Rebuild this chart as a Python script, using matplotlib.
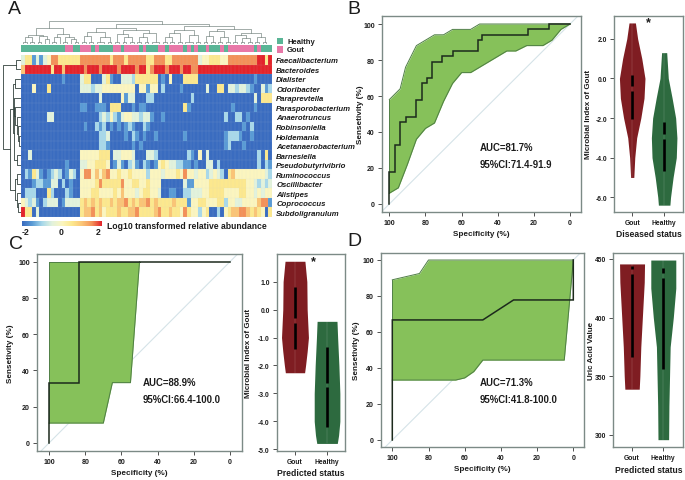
"""Panel figure: gout microbiome heatmap plus ROC curves and violin plots."""
import matplotlib

matplotlib.use("Agg")
import matplotlib.pyplot as plt
import numpy as np
from matplotlib.colors import LinearSegmentedColormap, ListedColormap

plt.rcParams["font.family"] = ["Liberation Sans", "DejaVu Sans"]

W, H = 685, 481

# --- heatmap data: level 0..8 per sample, -2..2 on the colour scale
GENERA = ["Faecalibacterium", "Bacteroides", "Dialister", "Odoribacter", "Paraprevtella",
          "Parasporobacterium", "Anaerotruncus", "Robinsoniella", "Holdemania",
          "Acetanaerobacterium", "Barnesiella", "Pseudobutyrivibrio", "Ruminococcus",
          "Oscillibacter", "Alistipes", "Coprococcus", "Subdoligranulum"]
LEVELS = [
    "3551313477555555" "77777777" "5" "777" "5" "77777" "55" "777" "55" "7777777" "344" "555" "44" "77777777" "88" "5" "8",
    "6888888858868888" "878887888878888788" "5" "78887888788" "77" "88888888888888888888",
    "0000000000010000" "3550003510033325555550104000555500000000000000010000",
    "0004000500000000" "333233" "444444444" "0" "44" "1" "44" "0" "2" "0000" "1" "000000" "3" "00" "55" "0" "3323321" "00" "3" "1" "2",
    "0000000000000000" "00000" "3" "00000" "4133" "000" "22" "0000000000" "2" "0000000000000000" "3" "0" "555",
    "0000000000000000" "11" "00" "1" "110" "555" "000" "1" "0" "11" "0000000000" "51" "00000000000" "1" "00000" "1" "0000",
    "0000000330000000" "00000" "232" "4" "2" "1" "344" "3323" "31" "00" "1" "0000000000000000" "2" "00" "22" "0" "1" "000000",
    "0000000000000000" "0100" "212" "01010" "121" "00" "21" "0000000000000000000000000" "1" "0" "2" "00000",
    "0000000000000000" "00000" "223" "0000" "1" "0" "21" "0" "1" "00" "1" "0000000" "1" "0000000000" "12221" "00" "1" "00000",
    "0000000000000000" "00000" "221" "000000" "1" "0" "1" "0000000000000000000000" "12" "000" "1" "0000000",
    "0030000000000000" "44444" "555" "0" "33" "444" "3" "000" "33" "2" "00000000" "2" "1" "0" "4" "0" "3" "0000000000000" "2" "0" "5" "0",
    "0000000000001000" "33" "445554" "0" "1" "3" "1" "0" "2" "3" "1" "0" "2101" "45433221" "1" "0" "1" "00" "33" "0" "2" "0000000000" "2" "0" "2" "1",
    "0215310123201320" "47746467" "4454454444" "2" "444344454" "7" "44344" "23" "432" "0" "56" "4444444432",
    "0001221133020100" "44445" "7" "55555" "7" "445544544" "4" "000000" "3" "11" "4444555555555544" "3" "2" "3" "2" "3",
    "0222000520002100" "44455444454" "6" "44434554" "43" "00" "1100" "2" "23" "3344" "5555" "444455" "44" "34344",
    "4323102333013333" "565656556566" "7" "56566" "7" "5655556555" "1" "445544455" "2" "443344" "44" "677" "1",
    "8550300000000000" "566756455" "565566755" "5567556554" "7" "544" "2" "45" "00" "2" "0" "45667765654" "0" "5",
]
GROUPS = "0000000000001100" "111" "0" "1" "0000" "11" "0" "1111" "0" "1" "000" "11" "0" "1111" "0" "1" "0" "1" "00" "1" "000" "1" "0" "1111111" "0" "1" "000"
GROUP_NAMES = ["Healthy", "Gout"]
COLORBAR_TICKS = [-2, 0, 2]

# nested merges: [height, left, right]; an int is a run of that many leaves
SAMPLE_TREE = [1.0,
               [0.7, [0.42, [0.3, 2, 2], [0.34, 2, [0.2, 1, 1]]], [0.46, [0.3, 2, 1], [0.3, 2, [0.22, 1, 2]]]],
               [0.88,
                [0.7, [0.55, [0.36, 2, 2], [0.3, 3, 2]], [0.62, [0.45, 2, [0.3, 2, 2]], [0.5, [0.3, 2, 2], 3]]],
                [0.8, [0.62, [0.5, [0.3, 2, 2], 2], [0.42, 3, 2]],
                 [0.66, [0.56, [0.34, 2, 2], [0.3, 2, 2]], [0.5, [0.4, 2, [0.28, 2, 2]], [0.3, 2, 2]]]]]]
GENUS_TREE = [1.0, [0.28, 1, 1],
              [0.6,
               [0.42, [0.34, 1, 1],
                [0.4, [0.36, 1, [0.3, 1, [0.2, 1, [0.14, 1, [0.1, 1, 1]]]]], [0.2, 1, 1]]],
               [0.3, [0.2, 1, 1], [0.22, 1, [0.14, 1, 1]]]]]

# --- ROC curves: (specificity, sensitivity)
B_SPEC = [100, 100, 97, 97, 94, 94, 91, 91, 85, 85, 82, 82, 79, 79, 76.5, 76.5, 71, 71, 65, 65, 51, 51, 48.5, 48.5, 23, 23, 11.5, 11.5, 0]
B_SENS = [0, 18, 18, 33, 33, 45.5, 45.5, 48.5, 48.5, 58, 58, 67, 67, 70, 70, 79, 79, 82, 82, 85, 85, 91, 91, 94, 94, 97, 97, 100, 100]
B_UP_SPEC = [100, 94, 91, 85, 75, 70, 65, 55, 50, 0]
B_UP_SENS = [58, 64, 76, 88, 94, 94, 97, 97, 100, 100]
B_LO_SPEC = [100, 95, 90, 85, 80, 75, 70, 65, 60, 55, 50, 40, 35, 30, 24, 15, 10, 5, 0]
B_LO_SENS = [6, 9, 22, 36, 42, 45, 57, 67, 73, 73, 76, 82, 85, 85, 88, 88, 91, 97, 100]

C_SPEC = [100, 100, 83.3, 83.3, 0]
C_SENS = [0, 33.3, 33.3, 100, 100]
C_UP_SPEC = [100, 50]
C_UP_SENS = [100, 100]
C_LO_SPEC = [100, 70, 65, 55, 50]
C_LO_SENS = [11, 11, 33.3, 33.3, 100]

D_SPEC = [100, 100, 50, 33, 0, 0]
D_SENS = [0, 66.7, 66.7, 77.8, 77.8, 100]
D_UP_SPEC = [100, 85, 80, 0]
D_UP_SENS = [89, 92.5, 100, 100]
D_LO_SPEC = [100, 65, 60, 55, 50, 5, 0]
D_LO_SENS = [33.3, 33.3, 34.5, 38, 44.4, 44.4, 100]

# --- violins: (value, half width), then the black bar and its gap
VB_GOUT_Y = [2.8, 2, 1, 0, -1, -2, -3, -4, -5]
VB_GOUT_W = [0.1, 0.17, 0.3, 0.4, 0.37, 0.27, 0.14, 0.08, 0.05]
VB_HEAL_Y = [1.3, 0, -1, -2, -3, -4, -5, -6, -6.4]
VB_HEAL_W = [0.08, 0.13, 0.25, 0.36, 0.4, 0.38, 0.28, 0.2, 0.18]
VB_BARS = [(0.15, -2.05, -0.5), (-2.2, -4.7, -2.95)]
VB_TICKS = [2, 0, -2, -4, -6]

VC_GOUT_Y = [1.73, 1, 0, -1, -1.5, -2, -2.26]
VC_GOUT_W = [0.31, 0.37, 0.38, 0.42, 0.38, 0.33, 0.3]
VC_HEAL_Y = [-0.42, -1, -2, -3, -4, -4.5, -4.79]
VC_HEAL_W = [0.31, 0.33, 0.37, 0.4, 0.4, 0.36, 0.32]
VC_BARS = [(0.8, -1.41, -0.4), (-1.35, -4.2, -2.7)]
VC_TICKS = [1, 0, -1, -2, -3, -4, -5]

VD_GOUT_Y = [445.7, 430, 400, 375, 350, 339]
VD_GOUT_W = [0.4, 0.39, 0.33, 0.28, 0.25, 0.23]
VD_HEAL_Y = [449, 425, 400, 375, 350, 325, 296]
VD_HEAL_W = [0.4, 0.4, 0.32, 0.22, 0.2, 0.18, 0.17]
VD_BARS = [(444, 366, 439), (442.6, 356, 436)]
VD_TICKS = [450, 400, 350, 300]

PERCENT_TICKS = [0, 20, 40, 60, 80, 100]
VIOLIN_NAMES = ["Gout", "Healthy"]

SCALE = ["#3a6cc0", "#5a9bd5", "#a8d8ea", "#e2f2dd", "#fbf6c0", "#fde98f", "#fbc677", "#f4945a", "#e3242b"]
INK = "#1c1c1c"
SPINE = "#7c8a86"
ROC_FILL = "#86c15a"
ROC_EDGE = "#4f7f45"
DIAG = "#d5e3e8"
RED = "#7f1d22"
GREEN = "#2d6a3f"
HEALTHY = "#5ab596"
GOUT = "#e878a8"

fig = plt.figure(figsize=(W / 100, H / 100), dpi=100)


def px_axes(x0, y0, x1, y1):
    return fig.add_axes([x0 / W, 1 - y1 / H, (x1 - x0) / W, (y1 - y0) / H])


def draw_tree(ax, node, pos, vertical):
    """Draw a nested merge list, return (centre, height, next free leaf)."""
    if isinstance(node, int):
        if node == 1:
            return pos + 0.5, 0.0, pos + 1
        h = 0.1
        left, right = pos + 0.5, pos + node - 0.5
        seg(ax, [left, left, right, right], [0, h, h, 0], vertical)
        return (left + right) / 2, h, pos + node
    h, a, b = node
    ca, ha, pos = draw_tree(ax, a, pos, vertical)
    cb, hb, pos = draw_tree(ax, b, pos, vertical)
    seg(ax, [ca, ca, cb, cb], [ha, h, h, hb], vertical)
    return (ca + cb) / 2, h, pos


def seg(ax, along, height, vertical):
    if vertical:
        ax.plot(along, height, color="#6f7f7a", lw=0.45)
    else:
        ax.plot(height, along, color="#33413d", lw=0.6)


def heatmap():
    matrix = np.array([[int(c) for c in row.ljust(68, "0")[:68]] for row in LEVELS])
    cmap = LinearSegmentedColormap.from_list("abundance", SCALE)
    ax = px_axes(21, 56, 272, 218)
    ax.imshow(matrix, cmap=cmap, vmin=0, vmax=8, aspect="auto", interpolation="nearest")
    ax.set_xticks(np.arange(-0.5, 68), minor=True)
    ax.set_yticks(np.arange(-0.5, 17), minor=True)
    ax.grid(which="minor", color="#c9d3d8", lw=0.2, alpha=0.35)
    ax.tick_params(which="both", length=0, labelbottom=False)
    ax.set_xticks([])
    ax.yaxis.tick_right()
    ax.set_yticks(range(17), GENERA, fontsize=5.6, style="italic", fontweight="bold", color=INK)
    ax.tick_params(axis="y", pad=3, length=0)
    for s in ax.spines.values():
        s.set_visible(False)

    groups = np.array([int(c) for c in GROUPS.ljust(68, "0")[:68]])
    ax = px_axes(21, 45.7, 272, 52.7)
    ax.imshow(groups[None, :], cmap=ListedColormap([HEALTHY, GOUT]), aspect="auto", interpolation="nearest")
    ax.axis("off")

    ax = px_axes(21, 22, 272, 45)
    draw_tree(ax, SAMPLE_TREE, 0, True)
    ax.set_xlim(0, 68)
    ax.set_ylim(0, 1.02)
    ax.axis("off")

    ax = px_axes(3, 56, 20.5, 218)
    draw_tree(ax, GENUS_TREE, 0, False)
    ax.set_ylim(17, 0)
    ax.set_xlim(1.02, 0)
    ax.axis("off")

    for i, name in enumerate(GROUP_NAMES):
        ax = px_axes(276.7, 38.7 + i * 8.3, 283.3, 45.3 + i * 8.3)
        ax.set_facecolor(HEALTHY if i == 0 else GOUT)
        ax.set_xticks([])
        ax.set_yticks([])
        for s in ax.spines.values():
            s.set_visible(False)
        fig.text(287 / W, 1 - (42 + i * 8.3) / H, name, fontsize=5.5, fontweight="bold", color=INK, va="center")

    ax = px_axes(21.7, 221.7, 101, 226.7)
    ax.imshow(np.linspace(-2, 2, 200)[None, :], cmap=cmap, vmin=-2, vmax=2, aspect="auto", extent=[-2, 2, 0, 1])
    ax.set_yticks([])
    ax.set_xticks(COLORBAR_TICKS, [str(t) for t in COLORBAR_TICKS], fontsize=6.2, fontweight="bold", color=INK)
    ax.get_xticklabels()[0].set_ha("left")
    ax.get_xticklabels()[-1].set_ha("right")
    ax.tick_params(axis="x", length=0, pad=1)
    for s in ax.spines.values():
        s.set_visible(False)
    fig.text(107 / W, 1 - 226.5 / H, "Log10 transformed relative abundance", fontsize=6.2,
             fontweight="bold", color=INK, va="center")


def style_axes(ax):
    for s in ax.spines.values():
        s.set_color(SPINE)
        s.set_linewidth(1.0)
    ax.tick_params(length=3, width=0.6, color="#333333", labelsize=5.0, labelcolor=INK, pad=2)
    for lab in ax.get_xticklabels() + ax.get_yticklabels():
        lab.set_fontweight("bold")


def place_ylabel(ax, box, right_px):
    ax.yaxis.set_label_coords((right_px - box[0]) / (box[2] - box[0]), 0.5)


def roc(box, x_ref, y_ref, spec, sens, up_spec, up_sens, lo_spec, lo_sens, auc, ci, text_xy, label_px):
    ax = px_axes(*box)
    # tick pixel positions give the axis limits
    ppx = (x_ref[1] - x_ref[0]) / 100
    ppy = (y_ref[0] - y_ref[1]) / 100
    ax.set_xlim(100 + (x_ref[0] - box[0]) / ppx, -(box[2] - x_ref[1]) / ppx)
    ax.set_ylim(-(box[3] - y_ref[0]) / ppy, 100 + (y_ref[1] - box[1]) / ppy)
    ax.plot([110, -10], [-10, 110], color=DIAG, lw=0.8, zorder=0.5)
    grid = np.unique(np.concatenate([up_spec, lo_spec]))
    upper = np.interp(grid, up_spec[::-1], up_sens[::-1])
    lower = np.interp(grid, lo_spec[::-1], lo_sens[::-1])
    ax.fill_between(grid, lower, upper, color=ROC_FILL, lw=0)
    ax.plot(up_spec, up_sens, color=ROC_EDGE, lw=0.7)
    ax.plot(lo_spec, lo_sens, color=ROC_EDGE, lw=0.7)
    ax.plot([100, 100], [lo_sens[0], up_sens[0]], color=ROC_EDGE, lw=0.7)
    ax.plot(spec, sens, color="#1c2a1c", lw=1.1, solid_joinstyle="miter")
    ax.set_xticks(PERCENT_TICKS)
    ax.set_yticks(PERCENT_TICKS)
    style_axes(ax)
    ax.set_xlabel("Specificity (%)", fontsize=5.9, fontweight="bold", color=INK, labelpad=3)
    ax.set_ylabel("Sensetivity (%)", fontsize=5.9, fontweight="bold", color=INK)
    place_ylabel(ax, box, label_px)
    fig.text(text_xy[0] / W, 1 - text_xy[1] / H, auc, fontsize=6.9, fontweight="bold", color=INK, va="center")
    fig.text(text_xy[0] / W, 1 - (text_xy[1] + 17) / H, ci, fontsize=6.9, fontweight="bold", color=INK, va="center")


def violin(box, xlim, ylim, gout, healthy, bars, ticks, fmt, ylabel, xlabel, label_px, star=None):
    ax = px_axes(*box)
    for x, (ys, ws), colour, bar in zip([1, 2], [gout, healthy], [RED, GREEN], bars):
        ys, ws = np.array(ys), np.array(ws)
        ax.fill_betweenx(ys, x - ws, x + ws, color=colour, lw=0)
        ax.plot([x, x], [ys.min(), ys.max()], color="#ffffff", lw=0.3, alpha=0.3)
        span = ylim[1] - ylim[0]
        ax.plot([x, x], [bar[0], bar[2] + span * 0.012], color="black", lw=1.9, solid_capstyle="butt")
        ax.plot([x, x], [bar[2] - span * 0.012, bar[1]], color="black", lw=1.9, solid_capstyle="butt")
    ax.set_xlim(*xlim)
    ax.set_ylim(*ylim)
    ax.set_xticks([1, 2], VIOLIN_NAMES)
    ax.set_yticks(ticks, [fmt.format(t) for t in ticks])
    style_axes(ax)
    ax.tick_params(axis="both", labelsize=4.9)
    ax.set_ylabel(ylabel, fontsize=5.8, fontweight="bold", color=INK)
    place_ylabel(ax, box, label_px)
    ax.set_xlabel(xlabel, fontsize=6.2, fontweight="bold", color=INK, labelpad=2.5)
    if star:
        ax.text(star[0], star[1], "*", fontsize=9, fontweight="bold", color=INK, ha="center", va="center")


heatmap()
roc((381.7, 17, 581, 212.7), (389.3, 570), (205, 25), B_SPEC, B_SENS, B_UP_SPEC, B_UP_SENS,
    B_LO_SPEC, B_LO_SENS, "AUC=81.7%", "95%CI:71.4-91.9", (480, 148), 364)
roc((36.7, 255, 241.7, 451.7), (49, 230), (444, 262.7), C_SPEC, C_SENS, C_UP_SPEC, C_UP_SENS,
    C_LO_SPEC, C_LO_SENS, "AUC=88.9%", "95%CI:66.4-100.0", (142.5, 383), 14.5)
roc((380.7, 254, 584, 448.3), (392.3, 573.3), (441, 261), D_SPEC, D_SENS, D_UP_SPEC, D_UP_SENS,
    D_LO_SPEC, D_LO_SENS, "AUC=71.3%", "95%CI:41.8-100.0", (480, 383.5), 359.5)
violin((614, 17, 683, 212.7), (0.43, 2.59), (-6.73, 3.15), (VB_GOUT_Y, VB_GOUT_W), (VB_HEAL_Y, VB_HEAL_W),
       VB_BARS, VB_TICKS, "{:.1f}", "Microbial Index of Gout", "Diseased status", 592, star=(1.5, 2.85))
violin((276.7, 255, 345, 451.7), (0.43, 2.56), (-5.05, 1.99), (VC_GOUT_Y, VC_GOUT_W), (VC_HEAL_Y, VC_HEAL_W),
       VC_BARS, VC_TICKS, "{:.1f}", "Microbial Index of Gout", "Predicted status", 252, star=(1.57, 1.75))
violin((613.3, 254, 683.3, 448.3), (0.40, 2.64), (289.5, 455), (VD_GOUT_Y, VD_GOUT_W), (VD_HEAL_Y, VD_HEAL_W),
       VD_BARS, VD_TICKS, "{:.0f}", "Uric Acid Value", "Predicted status", 595)

for letter, x, y in [("A", 8, 9), ("B", 347, 9), ("C", 9, 245), ("D", 347, 242)]:
    fig.text(x / W, 1 - y / H, letter, fontsize=14, color=INK, va="center")

fig.savefig("out.png", dpi=100)
